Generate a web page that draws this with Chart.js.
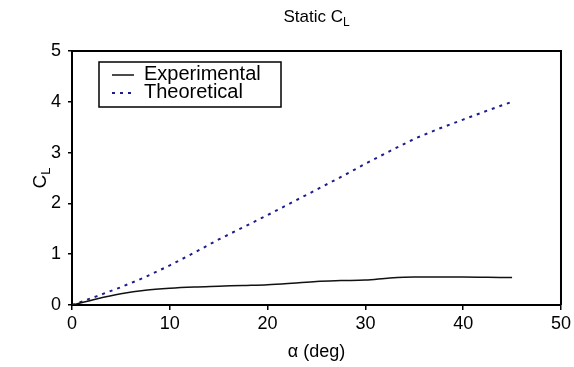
<!DOCTYPE html>
<html>
<head>
<meta charset="utf-8">
<script src="https://cdn.jsdelivr.net/npm/chart.js@4"></script>
<style>
html,body{margin:0;padding:0;background:#fff;}
#wrap{width:574px;height:367px;position:relative;}
</style>
</head>
<body>
<div id="wrap"><canvas id="c" width="574" height="367"></canvas></div>
<script>
const alphaDeg = [0, 2.5, 5, 7.5, 10, 12.5, 15, 17.5, 20, 22.5, 25, 27.5, 30, 32.5, 35, 37.5, 40, 42.5, 45];
const experimental = [0, 0.12, 0.22, 0.29, 0.33, 0.355, 0.37, 0.385, 0.40, 0.43, 0.465, 0.48, 0.49, 0.53, 0.55, 0.55, 0.55, 0.545, 0.54];
const theoretical = [0, 0.17, 0.35, 0.55, 0.78, 1.03, 1.29, 1.53, 1.77, 2.02, 2.27, 2.52, 2.78, 3.03, 3.27, 3.47, 3.65, 3.83, 4.0];
const xTicks = [0, 10, 20, 30, 40, 50];
const yTicks = [0, 1, 2, 3, 4, 5];
const seriesNames = ['Experimental', 'Theoretical'];

const FONT = "'Liberation Sans', Arial, sans-serif";

const toPts = ys => alphaDeg.map((x, i) => ({x: x, y: ys[i]}));

const decor = {
  id: 'decor',
  afterDraw(chart) {
    const ctx = chart.ctx;
    const a = chart.chartArea;
    ctx.save();
    ctx.strokeStyle = '#000';
    ctx.lineWidth = 2;
    ctx.beginPath();
    ctx.moveTo(a.left, a.top);
    ctx.lineTo(a.right, a.top);
    ctx.lineTo(a.right, a.bottom);
    ctx.stroke();

    const cx = (a.left + a.right) / 2;
    ctx.fillStyle = '#000';
    ctx.textBaseline = 'alphabetic';
    const main = 'Static C';
    ctx.font = '17px ' + FONT;
    const wMain = ctx.measureText(main).width;
    ctx.font = '12px ' + FONT;
    const wSub = ctx.measureText('L').width;
    const tx = cx - (wMain + wSub) / 2;
    ctx.font = '17px ' + FONT;
    ctx.textAlign = 'left';
    ctx.fillText(main, tx, 22);
    ctx.font = '12px ' + FONT;
    ctx.fillText('L', tx + wMain, 26);

    ctx.font = '18px ' + FONT;
    ctx.textAlign = 'center';
    ctx.fillText('\u03b1 (deg)', cx, 357);

    ctx.save();
    ctx.translate(46, (a.top + a.bottom) / 2);
    ctx.rotate(-Math.PI / 2);
    ctx.font = '19px ' + FONT;
    const wc = ctx.measureText('C').width;
    ctx.font = '13px ' + FONT;
    const wl = ctx.measureText('L').width;
    const sx = -(wc + wl) / 2;
    ctx.textAlign = 'left';
    ctx.font = '19px ' + FONT;
    ctx.fillText('C', sx, 0);
    ctx.font = '13px ' + FONT;
    ctx.fillText('L', sx + wc, 4);
    ctx.restore();

    const lx = 99, ly = 62, lw = 182, lh = 45;
    ctx.fillStyle = '#fff';
    ctx.fillRect(lx, ly, lw, lh);
    ctx.strokeStyle = '#000';
    ctx.lineWidth = 1.5;
    ctx.strokeRect(lx, ly, lw, lh);
    const rows = [73, 91];
    chart.data.datasets.forEach((ds, i) => {
      const y = rows[i];
      ctx.save();
      ctx.strokeStyle = ds.borderColor;
      ctx.lineWidth = ds.borderWidth;
      ctx.setLineDash(ds.borderDash || []);
      ctx.beginPath();
      ctx.moveTo(112, y + 2);
      ctx.lineTo(134, y + 2);
      ctx.stroke();
      ctx.restore();
      ctx.fillStyle = '#000';
      ctx.font = '20px ' + FONT;
      ctx.textAlign = 'left';
      ctx.textBaseline = 'middle';
      ctx.fillText(ds.label, 144, y + 1);
    });
    ctx.restore();
  }
};

new Chart(document.getElementById('c'), {
  type: 'line',
  data: {
    datasets: [
      {
        label: seriesNames[0],
        data: toPts(experimental),
        borderColor: '#111',
        borderWidth: 1.5,
        pointRadius: 0,
        tension: 0.4,
        cubicInterpolationMode: 'monotone',
        fill: false
      },
      {
        label: seriesNames[1],
        data: toPts(theoretical),
        borderColor: '#1c1c8c',
        borderWidth: 2,
        borderDash: [3, 5],
        pointRadius: 0,
        tension: 0,
        fill: false
      }
    ]
  },
  options: {
    responsive: false,
    animation: false,
    events: [],
    layout: {padding: {top: 51, right: 11, left: 0, bottom: 0}},
    plugins: {legend: {display: false}, title: {display: false}, tooltip: {enabled: false}},
    scales: {
      x: {
        type: 'linear',
        min: 0, max: 50,
        afterBuildTicks: s => { s.ticks = xTicks.map(v => ({value: v})); },
        afterFit: s => { s.height = 62; },
        grid: {display: true, drawOnChartArea: false, drawTicks: true, tickLength: 5, color: '#000', lineWidth: 1.5},
        border: {display: true, color: '#000', width: 2},
        ticks: {color: '#000', font: {family: FONT, size: 18}, padding: 3, maxRotation: 0}
      },
      y: {
        type: 'linear',
        min: 0, max: 5,
        afterBuildTicks: s => { s.ticks = yTicks.map(v => ({value: v})); },
        afterFit: s => { s.width = 72; },
        grid: {display: true, drawOnChartArea: false, drawTicks: true, tickLength: 4, color: '#000', lineWidth: 1.5},
        border: {display: true, color: '#000', width: 2},
        ticks: {color: '#000', font: {family: FONT, size: 18}, padding: 7}
      }
    }
  },
  plugins: [decor]
});
</script>
</body>
</html>
